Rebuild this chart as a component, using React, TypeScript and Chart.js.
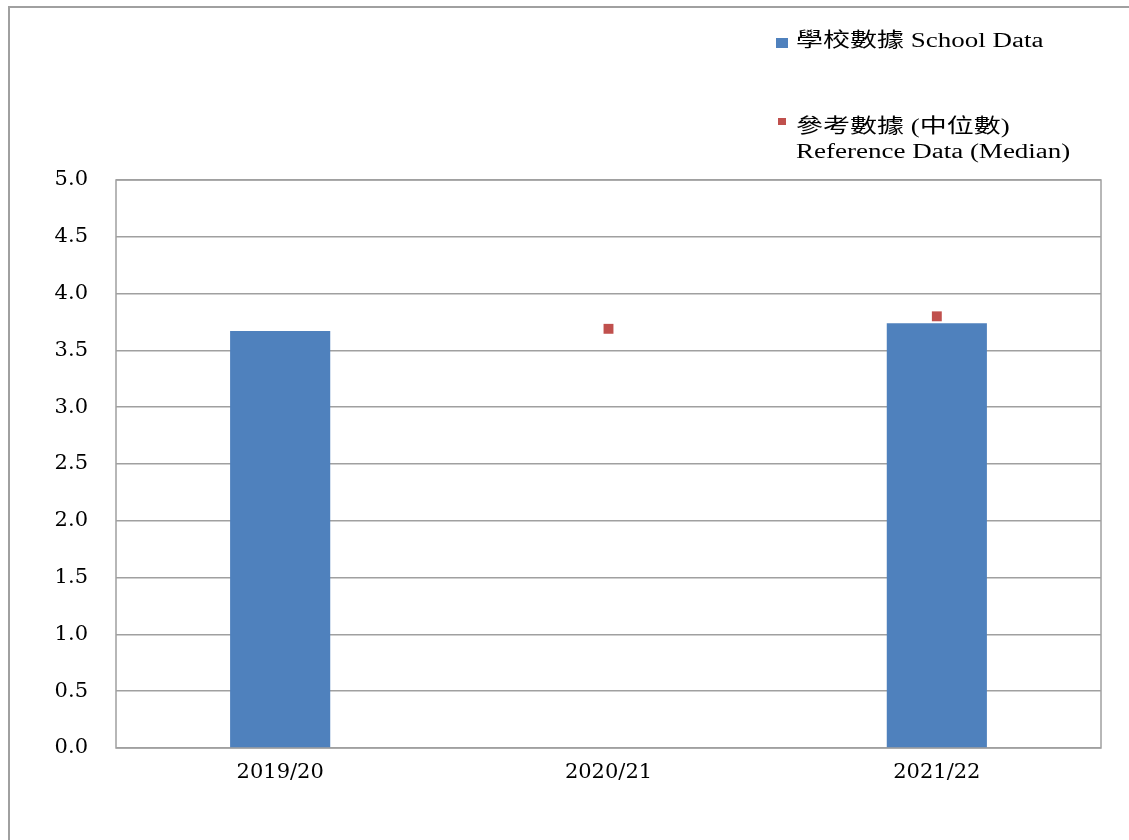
import { useEffect, useRef } from "react";
import { Chart, registerables } from "chart.js";

Chart.register(...registerables);

const categories = ["2019/20", "2020/21", "2021/22"];
const schoolData: (number | null)[] = [3.67, null, 3.74];
const referenceData: (number | null)[] = [null, 3.69, 3.8];
const yTickLabels = ["0.0", "0.5", "1.0", "1.5", "2.0", "2.5", "3.0", "3.5", "4.0", "4.5", "5.0"];
const schoolLabel = "學校數據 School Data";
const referenceLabel = ["參考數據 (中位數)", "Reference Data (Median)"];

const FONT = '"DejaVu Serif", "Noto Sans CJK TC", serif';
const LEGEND_FONT = '"Liberation Serif", "Noto Sans CJK TC", serif';
const BLUE = "#4f81bd";
const RED = "#c0504d";
const GRID = "#a0a0a0";

const framePlugin = {
  id: "frame",
  beforeDraw(chart: any) {
    const { ctx, width, height } = chart;
    ctx.save();
    ctx.strokeStyle = GRID;
    ctx.lineWidth = 2;
    ctx.beginPath();
    ctx.moveTo(9, height);
    ctx.lineTo(9, 7);
    ctx.lineTo(width, 7);
    ctx.stroke();
    ctx.restore();
  },
  beforeDatasetsDraw(chart: any) {
    const { ctx, chartArea } = chart;
    ctx.save();
    ctx.strokeStyle = GRID;
    ctx.lineWidth = 1.5;
    ctx.strokeRect(chartArea.left, chartArea.top, chartArea.right - chartArea.left, chartArea.bottom - chartArea.top);
    ctx.restore();
  },
};

const SX = 1.35;
function stretchedText(ctx: any, text: string, x: number, y: number) {
  ctx.save();
  ctx.translate(x, y);
  ctx.scale(SX, 1);
  ctx.fillText(text, 0, 0);
  ctx.restore();
}

const legendPlugin = {
  id: "customLegend",
  afterDraw(chart: any) {
    const { ctx } = chart;
    const ds = chart.data.datasets;
    ctx.save();
    ctx.font = `20px ${LEGEND_FONT}`;
    ctx.textBaseline = "middle";
    ctx.textAlign = "left";
    ctx.fillStyle = ds[0].backgroundColor;
    ctx.fillRect(776, 38, 12, 10);
    ctx.fillStyle = "#000";
    stretchedText(ctx, ds[0].label, 796, 42);
    ctx.fillStyle = ds[1].backgroundColor;
    ctx.fillRect(778, 118, 8, 7);
    ctx.fillStyle = "#000";
    const lines = String(ds[1].label).split("\n");
    lines.forEach((l: string, i: number) => stretchedText(ctx, l, 796, 128 + i * 25));
    ctx.restore();
  },
};

export default function App() {
  const ref = useRef<HTMLCanvasElement>(null);
  useEffect(() => {
    if (!ref.current) return;
    const chart = new Chart(ref.current, {
      type: "bar",
      data: {
        labels: categories,
        datasets: [
          {
            type: "bar",
            label: schoolLabel,
            data: schoolData,
            backgroundColor: BLUE,
            categoryPercentage: 0.305,
            barPercentage: 1,
            order: 2,
          },
          {
            type: "line",
            label: referenceLabel.join("\n"),
            data: referenceData,
            showLine: false,
            pointStyle: "rect",
            pointRadius: 7,
            pointHoverRadius: 7,
            pointBorderWidth: 0,
            backgroundColor: RED,
            borderColor: RED,
            order: 1,
          } as any,
        ],
      },
      options: {
        responsive: true,
        maintainAspectRatio: false,
        animation: false,
        layout: { padding: { top: 180, right: 28, left: 0, bottom: 0 } },
        plugins: { legend: { display: false }, tooltip: { enabled: false } },
        scales: {
          x: {
            grid: { display: false, drawTicks: false },
            border: { display: false },
            ticks: { color: "#000", font: { family: FONT, size: 21 }, padding: 12 },
            afterFit: (s: any) => {
              s.height = 92;
            },
          },
          y: {
            min: 0,
            max: 5,
            grid: { color: GRID, lineWidth: 1.5, drawTicks: false },
            border: { display: false },
            ticks: {
              stepSize: 0.5,
              color: "#000",
              font: { family: FONT, size: 21 },
              padding: 28,
              callback: (_v: any, i: number) => yTickLabels[i],
            },
            afterFit: (s: any) => {
              s.width = 116;
            },
          },
        },
      },
      plugins: [framePlugin, legendPlugin],
    });
    return () => chart.destroy();
  }, []);

  return (
    <div style={{ position: "fixed", left: 0, top: 0, width: 1129, height: 840 }}>
      <canvas ref={ref} />
    </div>
  );
}
